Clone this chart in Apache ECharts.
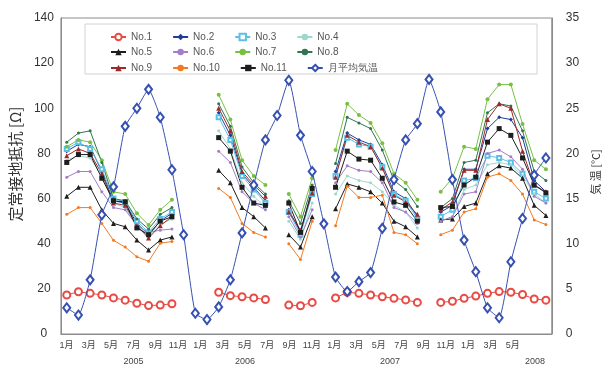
<!DOCTYPE html>
<html>
<head>
<meta charset="utf-8">
<script src="https://cdn.jsdelivr.net/npm/echarts@6/dist/echarts.min.js"></script>
<style>
  html, body { margin: 0; padding: 0; background: #fff; }
  #main { width: 609px; height: 367px; }
</style>
</head>
<body>
<div id="main"></div>
<script>
// measured months (data axis): 2005/1 .. 2008/6
const months = [];
for (let y = 2005; y <= 2008; y++) {
    for (let m = 1; m <= 12; m++) {
        if (y === 2008 && m > 6) break;
        months.push(y + '/' + m);
    }
}
// label axis: 2005/1 .. 2008/8
const axisMonths = [];
for (let y = 2005; y <= 2008; y++) {
    for (let m = 1; m <= 12; m++) {
        if (y === 2008 && m > 8) break;
        axisMonths.push(y + '/' + m);
    }
}
const yearLabelAt = ['2005/7', '2006/5', '2007/6', '2008/7'];

const _ = null;
// 定常接地抵抗 [Ω]
const no1  = [17.3,18.7,18,17.3,16,15,13.6,12.6,12.8,13.4, _,_,_, 18.5,17,16.5,16,15.3, _, 12.8,12.5,14, _, 16,18.5,18,17.3,16.5,15.8,15.1,14, _, 14,14.5,15.8,16.8,18,18.8,18.5,17.5,15.5,15];
const no2  = [81,84,83,72,59,58,49,44,50,53.5, _,_,_, 98,88,71,65,59, _, 55,45,63, _, 72,89,86,84,75,63,60,52, _, 54,57,73,73,91,96,95,87,68,63];
const no3  = [82,85,82,73,60,58.5,50,45,51,54, _,_,_, 96,86,70,64,58, _, 54,44,62, _, 70,87,84,83,74,62,59,51, _, 52,55,68,69,79,78,76,71,63,60];
const no4  = [77,79,78,70,58,56,48,43.5,48.5,51, _,_,_, 90,82,67,61,56, _, 50,42,58, _, 62,70,68,67,63,57,54,47, _, 50,52,64,66,75,76,75,70,62,58];
const no5  = [61,65,65,55,49,47.5,41.6,37.2,41.6,43, _,_,_, 72.5,67,56,52,47, _, 44,38.5,52, _, 55.5,66.5,65,63,58,50,47.5,43, _, 50.5,51,56.5,58,71,74.5,73.5,69,57,52.5];
const no6  = [69.5,72,72,63,56,55,48,45,46,46.5, _,_,_, 81,76,63,58,55, _, 52,43,55, _, 67,74.5,72.5,72,67,56,54,49, _, 50,52,62,63,80,81.5,78.5,73,61,58];
const no7  = [83,86,85,77,63,62,53.5,48.3,55,59.5, _,_,_, 106,95,77,70,66, _, 62,52,69, _, 81.5,102,97,93.5,84.5,71,67,59.5, _, 63,69,83,82,104,110.5,110.5,93,77,73];
const no8  = [85,89,90,76,60,59,51,46.5,53,56, _,_,_, 102,92,74,67,62, _, 59,49,66, _, 75.5,96,93.5,91,81.5,68,64,56.5, _, 56,60,76,77,98,102,101,90,72,68];
const no9  = [79,82,80,71,58,57,48,42.5,48,52, _,_,_, 100,90,72,66,61, _, 54,46,62.5, _, 69.5,88,85,83,73.5,61.5,58.5,53, _, 55,58.5,72.5,72.5,95,102,100,81,66,63];
const no10 = [53,56,56,49,41.5,38.5,34.2,32.2,40.2,41, _,_,_, 64.5,60.5,49,45,43, _, 40,33,50, _, 48,65.5,60.5,60.5,61.5,45,44,40, _, 44,46,54,55.5,69.5,71,68,62,50.5,48.5];
const no11 = [76,79.5,79.5,69,59,58.5,47,44,50,52, _,_,_, 87,81,65,58,57, _, 58,45,64.5, _, 65,81,77.5,77,69,58.5,57,50, _, 56,56.5,66,69.5,85,91,88,78,66,62.5];
// 月平均気温 [°C]
const temp = [2.9,2.1,6.0,13.2,16.3,23.0,25.0,27.1,24.0,18.2,11.0,2.3,
              1.6,3.0,6.0,11.2,16.5,21.5,24.2,28.1,22.0,18.0,12.2,6.3,
              4.7,5.8,6.8,11.7,17.1,21.5,23.3,28.2,24.6,17.1,10.4,6.9,
              2.9,1.8,8.0,12.8,17.6,19.5];

const names = ['No.1','No.2','No.3','No.4','No.5','No.6','No.7','No.8','No.9','No.10','No.11','月平均気温'];
const values = [no1,no2,no3,no4,no5,no6,no7,no8,no9,no10,no11,temp];
const looks = [
    { color: '#e94a43', symbol: 'emptyCircle', size: 7 },
    { color: '#1f3d98', symbol: 'diamond', size: 4 },
    { color: '#5cc0e6', symbol: 'emptyRect', size: 4 },
    { color: '#9dd8cd', symbol: 'circle', size: 3 },
    { color: '#1e1e1e', symbol: 'triangle', size: 5 },
    { color: '#a47cc8', symbol: 'circle', size: 3 },
    { color: '#78c043', symbol: 'circle', size: 4 },
    { color: '#2f7550', symbol: 'circle', size: 3 },
    { color: '#9c2a2a', symbol: 'triangle', size: 5 },
    { color: '#f27a22', symbol: 'circle', size: 3 },
    { color: '#1e1e1e', symbol: 'rect', size: 5 },
    { color: '#3550b0', symbol: 'emptyDiamond', size: [7, 9] }
];

const series = names.map((name, i) => ({
    name: name,
    type: 'line',
    xAxisIndex: 1,
    yAxisIndex: i === 11 ? 1 : 0,
    data: values[i],
    symbol: looks[i].symbol,
    symbolSize: looks[i].size,
    showAllSymbol: true,
    smooth: i === 11 ? 0.15 : false,
    connectNulls: false,
    itemStyle: { color: looks[i].color, borderWidth: 1 },
    lineStyle: { color: looks[i].color, width: 1 },
    z: i === 11 ? 3 : 2
}));

const legendRow = (items, top) => ({
    data: items,
    top: top,
    left: 105,
    itemWidth: 15,
    itemHeight: 8,
    itemGap: 20,
    formatter: '{n|{name}}',
    textStyle: { rich: { n: { width: 72, fontSize: 10, color: '#555', fontFamily: 'Liberation Sans' } } }
});

const chart = echarts.init(document.getElementById('main'));
chart.setOption({
    animation: false,
    textStyle: { fontFamily: 'Liberation Sans, Noto Sans CJK JP, sans-serif' },
    grid: { left: 53, right: 44, top: 18, bottom: 33, show: true, borderColor: '#8c8c8c', borderWidth: 1 },
    graphic: [{
        type: 'rect', z: 1,
        shape: { x: 85, y: 24, width: 452, height: 50 },
        style: { fill: '#fff', stroke: '#d2d2d2', lineWidth: 1 }
    }],
    legend: [
        legendRow(names.slice(0, 4), 27),
        legendRow(names.slice(4, 8), 42),
        legendRow(names.slice(8, 12), 58)
    ],
    xAxis: [
        {
            type: 'category', data: axisMonths, boundaryGap: true, position: 'bottom',
            axisLine: { lineStyle: { color: '#8c8c8c' } },
            axisTick: { show: false },
            axisLabel: {
                interval: (idx) => idx % 2 === 0 && idx < 42,
                formatter: (v) => v.split('/')[1] + '月',
                fontSize: 9, color: '#444', margin: 7
            }
        },
        {
            type: 'category', data: months, boundaryGap: true, show: false
        },
        {
            type: 'category', data: axisMonths, boundaryGap: true, position: 'bottom', offset: 16,
            axisLine: { show: false }, axisTick: { show: false },
            axisLabel: {
                interval: (idx, v) => yearLabelAt.indexOf(v) >= 0,
                formatter: (v) => v.split('/')[0],
                fontSize: 9, color: '#444', margin: 7
            }
        }
    ],
    yAxis: [
        {
            type: 'value', min: 0, max: 140, interval: 20, position: 'left',
            name: '定常接地抵抗 [Ω]', nameLocation: 'middle', nameGap: 30,
            nameTextStyle: { fontSize: 15, color: '#333', padding: [0, 0, 0, 24], fontFamily: 'Noto Sans CJK JP' },
            axisLine: { show: true, lineStyle: { color: '#8c8c8c' } },
            axisTick: { show: false }, splitLine: { show: false },
            axisLabel: { fontSize: 12, color: '#333', margin: 17, align: 'center' }
        },
        {
            type: 'value', min: 0, max: 35, interval: 5, position: 'right',
            name: '気 温 [°C]', nameLocation: 'middle', nameGap: 25,
            nameTextStyle: { fontSize: 11, color: '#333', padding: [0, 0, 0, 8], fontFamily: 'Noto Sans CJK JP' },
            axisLine: { show: true, lineStyle: { color: '#8c8c8c' } },
            axisTick: { show: false }, splitLine: { show: false },
            axisLabel: { fontSize: 12, color: '#333', margin: 14, align: 'left' }
        }
    ],
    series: series
});
</script>
</body>
</html>
